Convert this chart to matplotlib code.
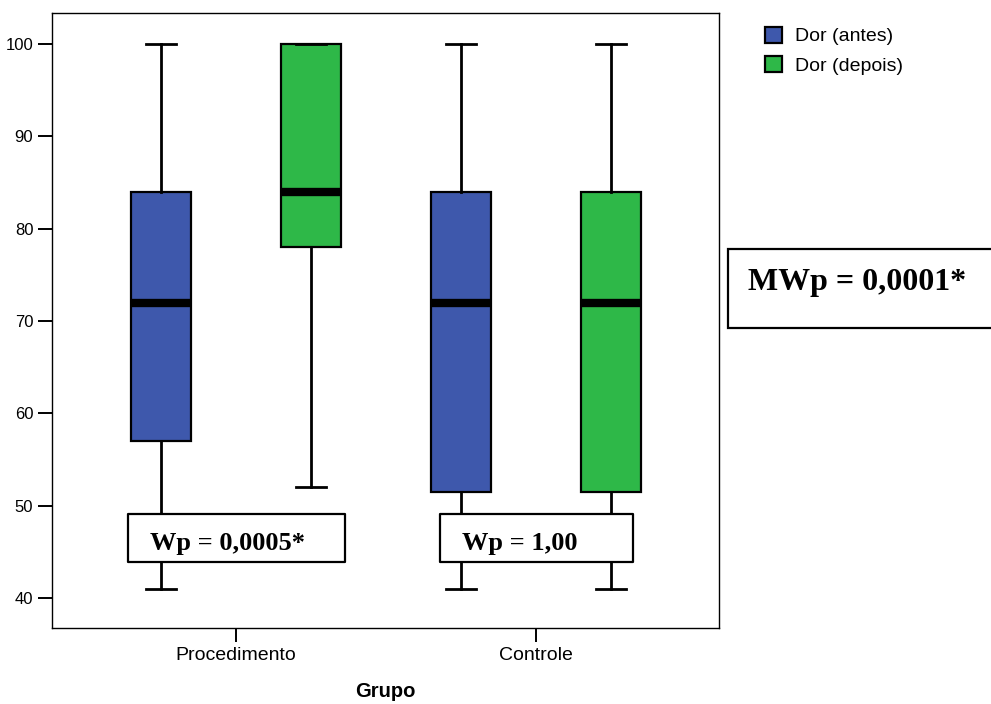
import matplotlib.pyplot as plt
from matplotlib.patches import Patch

groups = ["Procedimento", "Controle"]
series = ["Dor (antes)", "Dor (depois)"]
colors = ["#3E58AC", "#2EB848"]

# [grupo][serie]
mins = [[41, 52], [41, 41]]
q1s = [[57, 78], [51.5, 51.5]]
medians = [[72, 84], [72, 72]]
q3s = [[84, 100], [84, 84]]
maxs = [[100, 100], [100, 100]]

wp_labels = ["Wp = 0,0005*", "Wp = 1,00"]
mwp_label = "MWp = 0,0001*"

fig = plt.figure(figsize=(9.91, 7.04), dpi=100)
ax = fig.add_axes([52/991, 76/704, 667/991, 615/704])

offsets = [-0.25, 0.25]
for gi, g in enumerate(groups):
    for si, s in enumerate(series):
        stats = [dict(med=medians[gi][si], q1=q1s[gi][si], q3=q3s[gi][si],
                      whislo=mins[gi][si], whishi=maxs[gi][si], fliers=[])]
        ax.bxp(stats, positions=[gi + offsets[si]], widths=0.2, capwidths=0.1,
               patch_artist=True, showfliers=False,
               boxprops=dict(facecolor=colors[si], edgecolor="black", linewidth=1.6),
               medianprops=dict(color="black", linewidth=6, solid_capstyle="butt"),
               whiskerprops=dict(color="black", linewidth=2),
               capprops=dict(color="black", linewidth=2))

# caixas de texto Wp
box_x = [(-0.36, 0.363), (0.68, 1.323)]
for gi, lab in enumerate(wp_labels):
    x0, x1 = box_x[gi]
    ax.fill_between([x0, x1], 43.9, 49.1, facecolor="white", edgecolor="black",
                    linewidth=1.6, zorder=5)
    ax.text(x0 + 0.073, 45.2, lab, fontsize=19, fontweight="bold",
            family="Liberation Serif", va="baseline", ha="left", zorder=6)

ax.set_xlim(-0.613, 1.61)
ax.set_ylim(36.75, 103.36)
ax.set_xticks(range(len(groups)))
ax.set_xticklabels(groups, fontsize=14, family="Liberation Sans")
ax.set_yticks(range(40, 101, 10))
ax.set_yticklabels([str(v) for v in range(40, 101, 10)], fontsize=12, family="Liberation Sans")
ax.tick_params(axis="both", direction="out", length=10, width=1.4)
ax.set_xlabel("Grupo", fontsize=14.5, fontweight="bold", family="Liberation Sans", labelpad=13)
for sp in ax.spines.values():
    sp.set_linewidth(1.0)

handles = [Patch(facecolor=c, edgecolor="black", linewidth=1.6, label=s)
           for c, s in zip(colors, series)]
fig.legend(handles=handles, loc="upper left", bbox_to_anchor=(765/991, 1 - 27/704),
           frameon=False, prop=dict(family="Liberation Sans", size=14),
           handlelength=0.85, handleheight=0.85, handletextpad=0.7, labelspacing=0.55,
           borderaxespad=0, borderpad=0)

# caixa MWp
fig.patches.append(plt.Rectangle((728/991, 1 - 328/704), 300/991, 79/704,
                                 transform=fig.transFigure, facecolor="white",
                                 edgecolor="black", linewidth=1.6))
fig.text(748/991, 1 - 290/704, mwp_label, fontsize=23, fontweight="bold",
         family="Liberation Serif", va="baseline", ha="left")

fig.savefig("out.png", dpi=100)
